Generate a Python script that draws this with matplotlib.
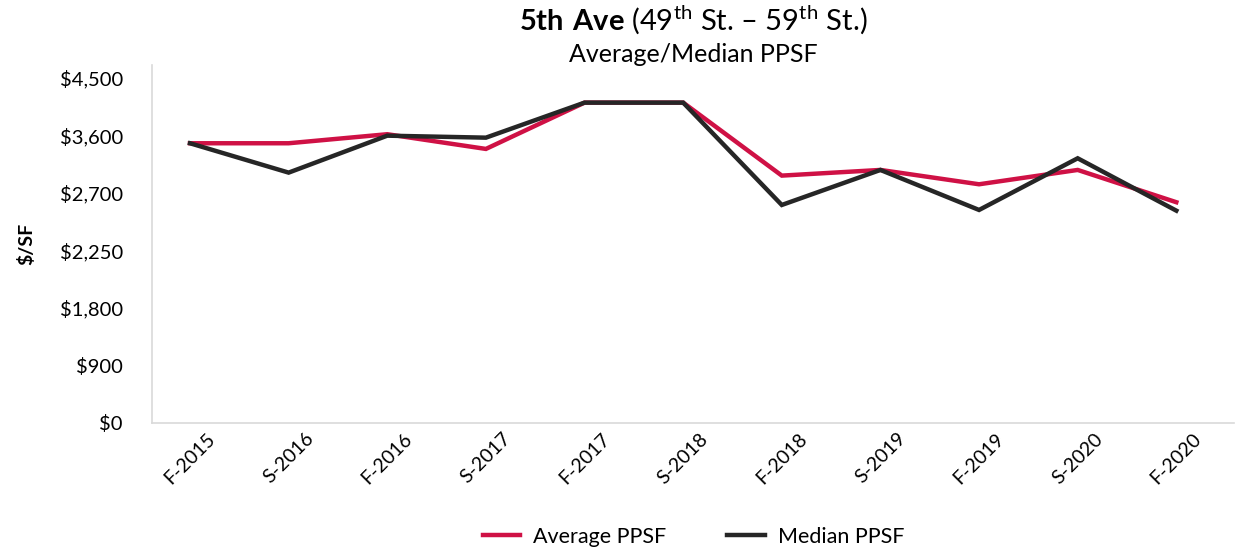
import matplotlib.pyplot as plt

# ── DATA ──────────────────────────────────────────────
periods = ['F-2015', 'S-2016', 'F-2016', 'S-2017', 'F-2017', 'S-2018',
           'F-2018', 'S-2019', 'F-2019', 'S-2020', 'F-2020']
avg_ppsf = [3648, 3648, 3766, 3574, 4178, 4178, 3226, 3300, 3113, 3300, 2879]
med_ppsf = [3648, 3265, 3747, 3721, 4178, 4178, 2843, 3300, 2778, 3452, 2769]
y_ticks = [0, 750, 1500, 2250, 3000, 3750, 4500]
y_tick_labels = ['$0', '$900', '$1,800', '$2,250', '$2,700', '$3,600', '$4,500']

# ── STYLE ─────────────────────────────────────────────
plt.rcParams['font.family'] = ['Lato', 'DejaVu Sans']
plt.rcParams['mathtext.fontset'] = 'custom'
plt.rcParams['mathtext.rm'] = 'Lato'
plt.rcParams['mathtext.bf'] = 'Lato:bold'

red = '#CF1145'
dark = '#262626'

fig = plt.figure(figsize=(12.36, 5.5), dpi=100)
ax = fig.add_axes([0.123, 0.231, 0.875, 0.651])

x = list(range(len(periods)))
ax.plot(x, avg_ppsf, color=red, lw=3.2, label='Average PPSF', solid_joinstyle='miter')
ax.plot(x, med_ppsf, color=dark, lw=3.2, label='Median PPSF', solid_joinstyle='miter')

ax.set_xlim(-0.385, 10.58)
ax.set_ylim(0, 4670)
ax.set_yticks(y_ticks)
ax.set_yticklabels(y_tick_labels, fontsize=14.5)
ax.set_xticks(x)
ax.set_xticklabels(periods, rotation=45, ha='center', va='top', fontsize=14)
ax.tick_params(axis='x', length=0, pad=5)
ax.tick_params(axis='y', length=0, pad=21)

for s in ['top', 'right']:
    ax.spines[s].set_visible(False)
for s in ['left', 'bottom']:
    ax.spines[s].set_color('#D9D9D9')
    ax.spines[s].set_linewidth(1.2)

ax.set_ylabel('$/SF', fontsize=14, fontweight='bold')
ax.yaxis.set_label_coords(-0.108, 0.5)

fig.text(0.561, 0.963, r'$\mathbf{5th\ Ave}$ (49$^{\mathrm{th}}$ St. – 59$^{\mathrm{th}}$ St.)',
         ha='center', va='center', fontsize=21)
fig.text(0.561, 0.9, 'Average/Median PPSF', ha='center', va='center', fontsize=18)

fig.legend(loc='center', bbox_to_anchor=(0.561, 0.024), ncol=2, frameon=False,
           fontsize=15.5, handlelength=1.75, columnspacing=2.8, handletextpad=0.6)

plt.savefig('out.png', dpi=100)
